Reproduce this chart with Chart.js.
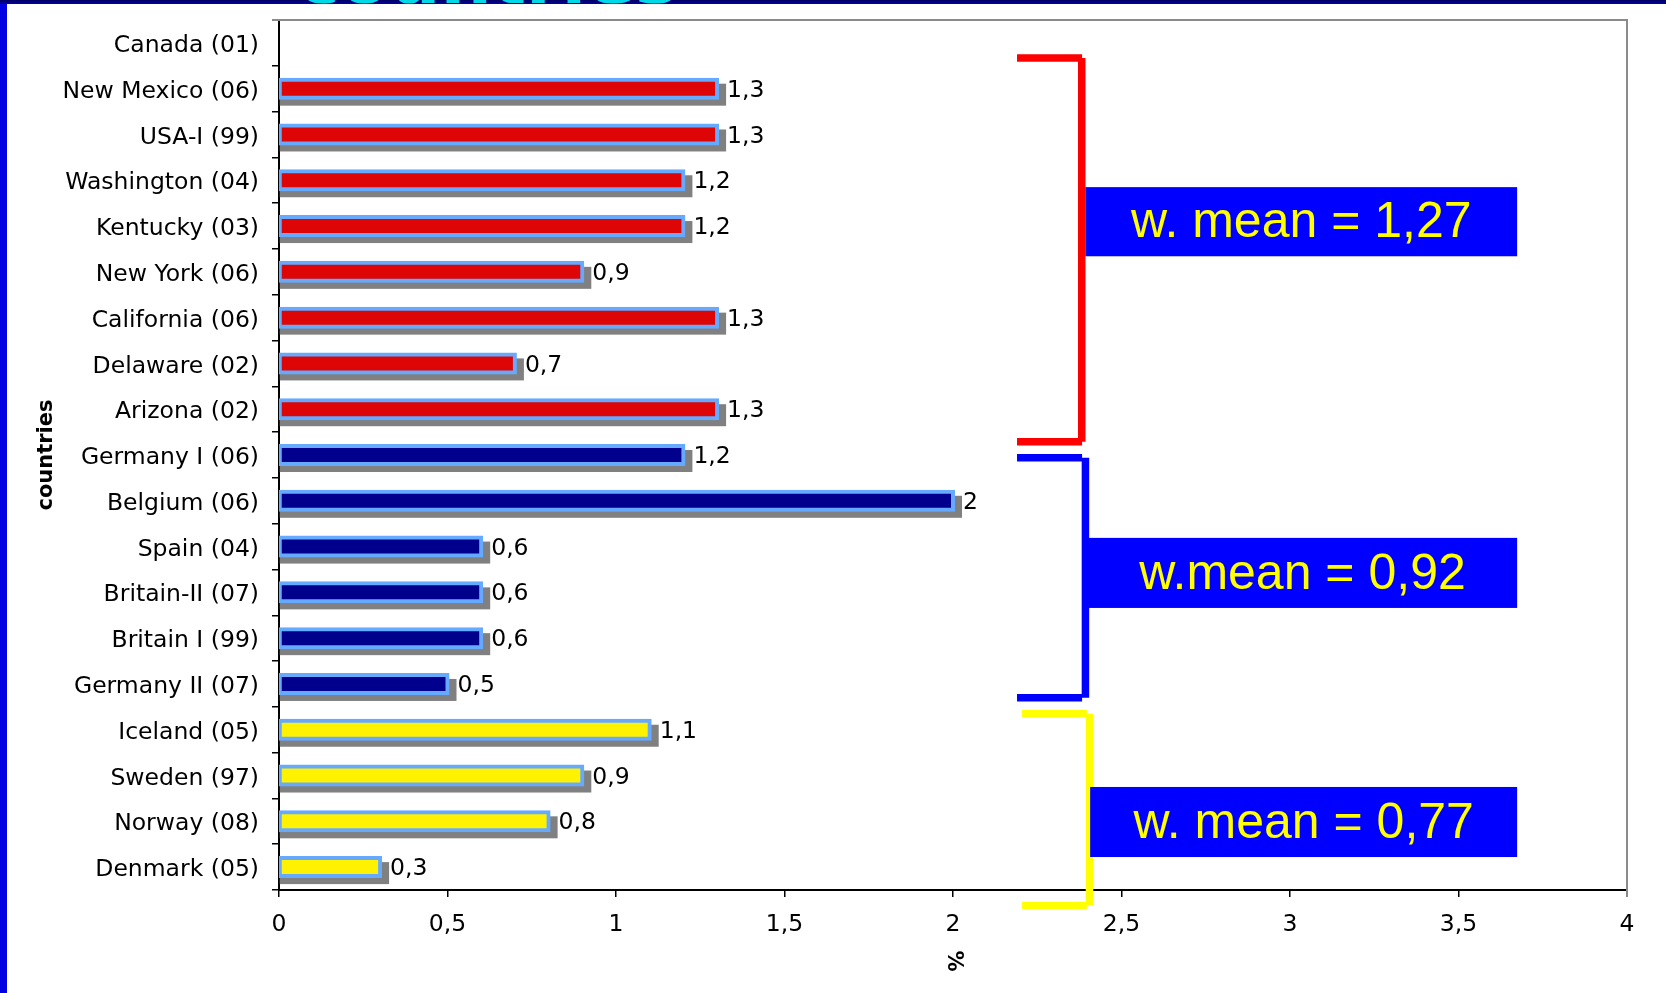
<!DOCTYPE html>
<html>
<head>
<meta charset="utf-8">
<script src="https://cdn.jsdelivr.net/npm/chart.js@4.4.1/dist/chart.umd.min.js"></script>
<style>
  html, body { margin: 0; padding: 0; background: #ffffff; }
  #wrap { position: relative; width: 1666px; height: 993px; overflow: hidden; background: #ffffff; }
</style>
</head>
<body>
<div id="wrap"><canvas id="chart" width="1666" height="993"></canvas></div>
<script>
// Sites with the survey year in brackets
const categories = [
  'Canada (01)', 'New Mexico (06)', 'USA-I (99)', 'Washington (04)', 'Kentucky (03)',
  'New York (06)', 'California (06)', 'Delaware (02)', 'Arizona (02)', 'Germany I (06)',
  'Belgium (06)', 'Spain (04)', 'Britain-II (07)', 'Britain I (99)', 'Germany II (07)',
  'Iceland (05)', 'Sweden (97)', 'Norway (08)', 'Denmark (05)'
];
// Rate in %
const values = [
  null, 1.3, 1.3, 1.2, 1.2,
  0.9, 1.3, 0.7, 1.3, 1.2,
  2, 0.6, 0.6, 0.6, 0.5,
  1.1, 0.9, 0.8, 0.3
];
// Region group of every site
const groups = [
  'na', 'na', 'na', 'na', 'na',
  'na', 'na', 'na', 'na', 'eu',
  'eu', 'eu', 'eu', 'eu', 'eu',
  'nordic', 'nordic', 'nordic', 'nordic'
];
const xTicks = [0, 0.5, 1, 1.5, 2, 2.5, 3, 3.5, 4];
// Weighted mean of each group
const groupNames = ['na', 'eu', 'nordic'];
const groupMeans = [1.27, 0.92, 0.77];
const meanLabels = ['w. mean = 1,27', 'w.mean = 0,92', 'w. mean = 0,77'];

const fillColors = { na: '#dd0505', eu: '#00008c', nordic: '#fff200' };
const bracketColors = { na: '#ff0000', eu: '#0000ff', nordic: '#ffff00' };

const commaNum = v => String(v).replace('.', ',');

// Bracket and label box placement in axis units (x in %, y in category index)
const bracketLayout = {
  na:     { x0: 2.19,  x1: 2.383, xv: 2.382, yTop: 0.33,  yBot: 8.71,  box: [2.393, 3.674, 3.15, 4.66] },
  eu:     { x0: 2.19,  x1: 2.383, xv: 2.393, yTop: 9.06,  yBot: 14.30, box: [2.400, 3.674, 10.81, 12.34] },
  nordic: { x0: 2.205, x1: 2.397, xv: 2.405, yTop: 14.65, yBot: 18.84, box: [2.407, 3.674, 16.25, 17.78] }
};

// Bar outline spreads past the value edge, like a centred stroke
const BAR_INFLATE = 2;
const SHADOW_DX = 7, SHADOW_DY = 6;
const LABEL_FONT = '23.5px "DejaVu Sans"';

// Slide frame: blue left edge, dark top band with the clipped heading
const framePlugin = {
  id: 'frame',
  afterDraw(chart) {
    const ctx = chart.ctx;
    ctx.save();
    ctx.fillStyle = '#0000e0';
    ctx.fillRect(0, 0, 7, chart.height);
    const g = ctx.createLinearGradient(0, 0, 0, 4);
    g.addColorStop(0, '#000060');
    g.addColorStop(1, '#0000a8');
    ctx.fillStyle = g;
    ctx.fillRect(0, 0, chart.width, 4);
    ctx.beginPath();
    ctx.rect(0, 0, chart.width, 3.5);
    ctx.clip();
    ctx.fillStyle = '#00d8e8';
    ctx.font = 'bold 72px "DejaVu Sans"';
    ctx.textBaseline = 'alphabetic';
    ctx.textAlign = 'left';
    ctx.fillText('countries', 297, 3);
    ctx.restore();
  }
};

// Plot frame lines (top and right) in grey
const plotFramePlugin = {
  id: 'plotFrame',
  beforeDatasetsDraw(chart) {
    const { ctx, chartArea: a } = chart;
    ctx.save();
    ctx.strokeStyle = '#8a8a8a';
    ctx.lineWidth = 2;
    ctx.beginPath();
    ctx.moveTo(a.left - 7, a.top);
    ctx.lineTo(a.right, a.top);
    ctx.lineTo(a.right, a.bottom + 7);
    ctx.stroke();
    ctx.restore();
  }
};

// Grey drop shadow behind each bar
const shadowPlugin = {
  id: 'barShadow',
  beforeDatasetsDraw(chart) {
    const ctx = chart.ctx;
    const meta = chart.getDatasetMeta(0);
    ctx.save();
    ctx.fillStyle = '#808080';
    meta.data.forEach((el, i) => {
      if (values[i] == null) return;
      const { x, y, base, height } = el.getProps(['x', 'y', 'base', 'height'], true);
      const h = height + 2 * BAR_INFLATE;
      ctx.fillRect(base, y - h / 2 + SHADOW_DY, x + BAR_INFLATE + SHADOW_DX - base, h);
    });
    ctx.restore();
  }
};

// Value text after each bar
const valueLabelPlugin = {
  id: 'valueLabels',
  afterDatasetsDraw(chart) {
    const ctx = chart.ctx;
    const meta = chart.getDatasetMeta(0);
    ctx.save();
    ctx.fillStyle = '#000000';
    ctx.font = LABEL_FONT;
    ctx.textAlign = 'left';
    ctx.textBaseline = 'middle';
    meta.data.forEach((el, i) => {
      if (values[i] == null) return;
      const { x, y } = el.getProps(['x', 'y'], true);
      ctx.fillText(commaNum(values[i]), x + BAR_INFLATE + SHADOW_DX + 1, y + 2);
    });
    ctx.restore();
  }
};

// Group brackets with weighted-mean boxes
const bracketPlugin = {
  id: 'groupBrackets',
  afterDraw(chart) {
    const ctx = chart.ctx;
    const xs = chart.scales.x, ys = chart.scales.y;
    const px = v => xs.getPixelForValue(v);
    const py = v => ys.getPixelForValue(v);
    ctx.save();
    groupNames.forEach((name, gi) => {
      const L = bracketLayout[name];
      ctx.strokeStyle = bracketColors[name];
      ctx.lineWidth = 7.5;
      ctx.lineCap = 'butt';
      ctx.beginPath();
      ctx.moveTo(px(L.x0), py(L.yTop));
      ctx.lineTo(px(L.x1), py(L.yTop));
      ctx.moveTo(px(L.x0), py(L.yBot));
      ctx.lineTo(px(L.x1), py(L.yBot));
      ctx.moveTo(px(L.xv), py(L.yTop));
      ctx.lineTo(px(L.xv), py(L.yBot));
      ctx.stroke();

      const [bx0, bx1, by0, by1] = L.box;
      const left = px(bx0), right = px(bx1), top = py(by0), bottom = py(by1);
      ctx.fillStyle = '#0000ff';
      ctx.fillRect(left, top, right - left, bottom - top);
      ctx.fillStyle = '#ffff00';
      ctx.font = '50px "Liberation Sans"';
      ctx.textAlign = 'center';
      ctx.textBaseline = 'middle';
      ctx.fillText(meanLabels[gi], (left + right) / 2, (top + bottom) / 2 + 2);
    });
    ctx.restore();
  }
};

// Rotated "%" axis title under the x axis
const xTitlePlugin = {
  id: 'xTitle',
  afterDraw(chart) {
    const { ctx, chartArea: a } = chart;
    ctx.save();
    ctx.translate((a.left + a.right) / 2, 961);
    ctx.rotate(Math.PI / 2);
    ctx.fillStyle = '#000000';
    ctx.font = 'bold 21px "DejaVu Sans"';
    ctx.textAlign = 'center';
    ctx.textBaseline = 'middle';
    ctx.fillText('%', 0, 0);
    ctx.restore();
  }
};

new Chart(document.getElementById('chart'), {
  type: 'bar',
  data: {
    labels: categories,
    datasets: [{
      data: values,
      backgroundColor: groups.map(g => fillColors[g]),
      borderColor: '#66aaff',
      borderWidth: 4,
      borderSkipped: false,
      barThickness: 18,
      inflateAmount: BAR_INFLATE
    }]
  },
  plugins: [framePlugin, plotFramePlugin, shadowPlugin, valueLabelPlugin, bracketPlugin, xTitlePlugin],
  options: {
    indexAxis: 'y',
    responsive: false,
    animation: false,
    devicePixelRatio: 1,
    layout: { padding: { top: 20, right: 39, left: 0, bottom: 0 } },
    plugins: { legend: { display: false }, tooltip: { enabled: false } },
    scales: {
      x: {
        type: 'linear',
        min: 0,
        max: 4,
        afterBuildTicks: s => { s.ticks = xTicks.map(v => ({ value: v })); },
        afterFit: s => { s.height = 103; s.paddingLeft = 0; s.paddingRight = 0; },
        ticks: {
          color: '#000000',
          font: { family: '"DejaVu Sans"', size: 23.5 },
          padding: 14,
          callback: v => commaNum(v),
          maxRotation: 0
        },
        grid: { drawOnChartArea: false, drawTicks: true, tickLength: 7, color: '#000000', lineWidth: 1.5 },
        border: { display: true, color: '#000000', width: 2 }
      },
      y: {
        type: 'category',
        afterFit: s => { s.width = 279; s.paddingTop = 0; s.paddingBottom = 0; },
        ticks: {
          color: '#000000',
          font: { family: '"DejaVu Sans"', size: 23.5 },
          padding: 13,
          labelOffset: 3,
          autoSkip: false
        },
        grid: { offset: true, drawOnChartArea: false, drawTicks: true, tickLength: 7, color: '#000000', lineWidth: 1.5 },
        border: { display: true, color: '#000000', width: 2 },
        title: {
          display: true,
          text: 'countries',
          color: '#000000',
          font: { family: '"DejaVu Sans"', size: 21, weight: 'bold' },
          padding: { top: 34, bottom: 0 }
        }
      }
    }
  }
});
</script>
</body>
</html>
